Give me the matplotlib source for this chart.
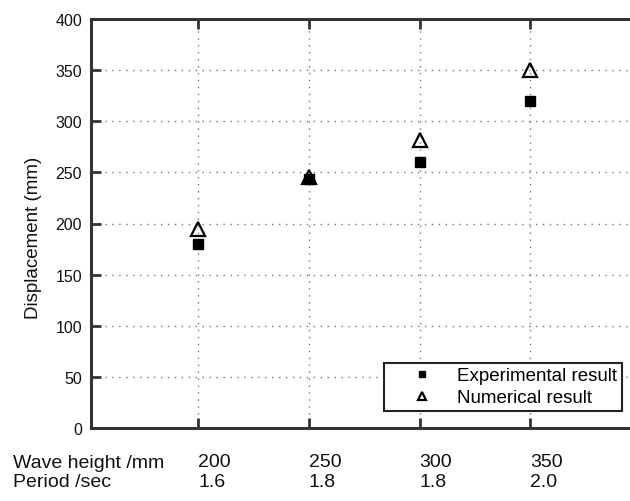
import matplotlib
matplotlib.use("Agg")
import matplotlib.pyplot as plt
from matplotlib.transforms import ScaledTranslation

plt.rcParams['font.family'] = ['Liberation Sans', 'DejaVu Sans']

# Test cases: wave height (mm) and wave period (s)
wave_height = [200, 250, 300, 350]
period = [1.6, 1.8, 1.8, 2.0]

# Peak displacement (mm)
experimental = [180, 244, 260, 320]
numerical = [195, 245, 282, 350]

y_ticks = [0, 50, 100, 150, 200, 250, 300, 350, 400]

fig = plt.figure(figsize=(6.30, 5.02), dpi=100)
ax = fig.add_axes([91 / 630, 1 - 429 / 502, 549 / 630, 409 / 502])

pos = list(range(1, len(wave_height) + 1))

ax.plot(pos, experimental, linestyle='none', marker='s', markersize=7.5,
        color='black', label='Experimental result', zorder=3)
ax.plot(pos, numerical, linestyle='none', marker='^', markersize=10,
        markerfacecolor='none', markeredgecolor='black', markeredgewidth=1.6,
        label='Numerical result', zorder=4)

ax.set_xlim(0.033, 4.99)
ax.set_ylim(0, 400)
ax.set_yticks(y_ticks)
ax.set_yticklabels([str(v) for v in y_ticks], fontsize=11.5)

ax.set_xticks(pos)
ax.set_xticklabels([f"{h}\n{p:.1f}" for h, p in zip(wave_height, period)],
                   fontsize=14, ha='left', multialignment='left')
for lab in ax.get_xticklabels():
    lab.set_transform(lab.get_transform() +
                      ScaledTranslation(-13 / 100, 0, fig.dpi_scale_trans))

ax.tick_params(axis='y', direction='in', length=7, width=2, pad=6.5,
               colors='#333333', labelcolor='#111111')
ax.tick_params(axis='x', direction='in', length=7, width=2, pad=18,
               top=True, colors='#333333', labelcolor='#111111')

for side in ['left', 'bottom', 'top']:
    ax.spines[side].set_linewidth(2.2)
    ax.spines[side].set_color('#333333')
ax.spines['right'].set_visible(False)

ax.grid(True, color='#777777', linestyle=(0, (1, 4)), linewidth=1.0)
ax.set_axisbelow(True)

ax.set_ylabel('Displacement (mm)', fontsize=13.5, color='#111111')
ax.yaxis.set_label_coords(-0.089, 0.467)

fig.text(13 / 630, 1 - 455 / 502, 'Wave height /mm\nPeriod /sec',
         fontsize=14, ha='left', va='top', linespacing=1.15, color='#111111')

leg = ax.legend(loc='lower right', bbox_to_anchor=(0.967, 0.0416),
                borderaxespad=0, fontsize=13.5, markerscale=0.6,
                fancybox=False, framealpha=1, edgecolor='#222222',
                handlelength=3.5, handletextpad=0.15, borderpad=0.25,
                labelspacing=0.25)
leg.get_frame().set_linewidth(1.5)

fig.savefig('out.png', dpi=100)
